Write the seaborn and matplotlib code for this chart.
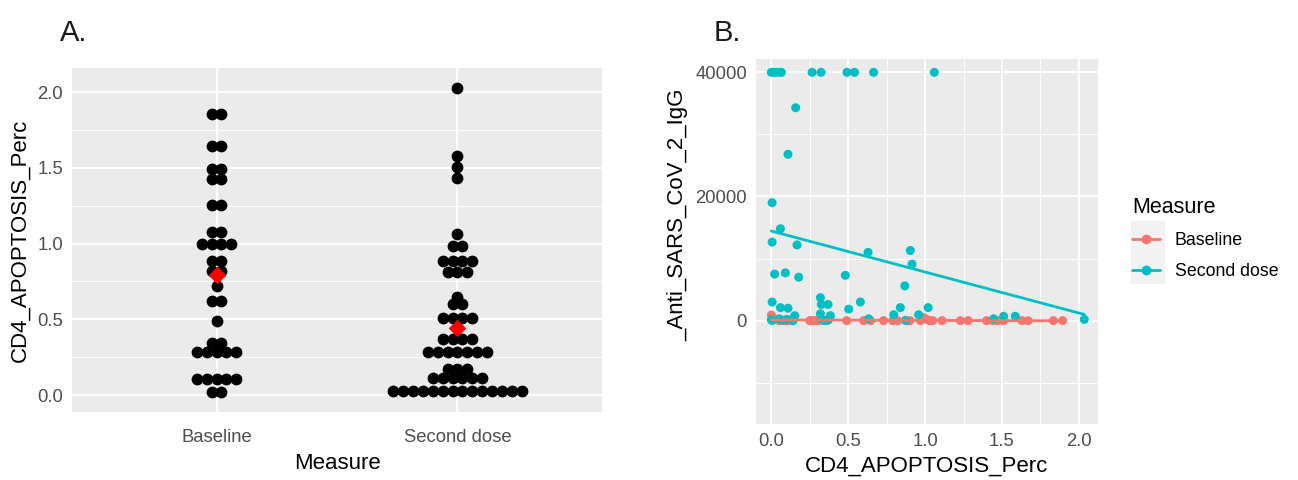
import matplotlib

matplotlib.use("Agg")
import matplotlib.pyplot as plt
import numpy as np
import pandas as pd
import seaborn as sns
from matplotlib.lines import Line2D
from matplotlib.patches import Rectangle
from matplotlib.ticker import FormatStrFormatter, MultipleLocator

# Panel A: CD4 apoptosis (%) per measure, one entry per dot (dotplot bin centres)
measures = ["Baseline", "Second dose"]
baseline_perc = [
    1.855, 1.855, 1.641, 1.641, 1.491, 1.491, 1.425, 1.425, 1.253, 1.253,
    1.079, 1.079, 1.0, 1.0, 1.0, 1.0, 0.887, 0.887, 0.817, 0.817, 0.72,
    0.623, 0.623, 0.489, 0.342, 0.342, 0.284, 0.284, 0.284, 0.284, 0.284,
    0.104, 0.104, 0.104, 0.104, 0.104, 0.02, 0.02,
]
second_dose_perc = [
    2.03, 1.579, 1.506, 1.436, 1.062, 0.987, 0.987,
    0.885, 0.885, 0.885, 0.885, 0.815, 0.815, 0.815, 0.65, 0.599, 0.599,
    0.511, 0.511, 0.511, 0.511, 0.368, 0.368, 0.368, 0.368,
    0.284, 0.284, 0.284, 0.284, 0.284, 0.284, 0.284,
    0.172, 0.172, 0.172, 0.11, 0.11, 0.11, 0.11, 0.11, 0.11,
    0.028, 0.028, 0.028, 0.028, 0.028, 0.028, 0.028,
    0.028, 0.028, 0.028, 0.028, 0.028, 0.028, 0.028,
]

# Panel B: apoptosis vs anti-SARS-CoV-2 IgG
igg_baseline_perc = [
    0.0, 0.01, 0.05, 0.08, 0.10, 0.12, 0.14, 0.25, 0.26, 0.28, 0.30, 0.31,
    0.34, 0.36, 0.49, 0.60, 0.645, 0.73, 0.79, 0.82, 0.88, 0.90, 0.97, 0.99,
    1.01, 1.03, 1.05, 1.11, 1.23, 1.28, 1.40, 1.44, 1.47, 1.51, 1.63, 1.67,
    1.835, 1.895,
]
igg_baseline = [
    900, 300, 0, 0, 0, 100, 0, 0, 0, 0, 0, 100,
    0, 0, 0, 0, 0, 0, 0, 0, 0, 0, 0, 500,
    200, 0, 0, 0, 0, 0, 0, 0, 0, 0, 0, 0,
    0, 0,
]
igg_second_perc = [
    0.0, 0.02, 0.04, 0.065, 0.265, 0.323, 0.492, 0.541, 0.665, 1.06,
    0.158, 0.108, 0.005,
    0.059, 0.005, 0.167, 0.629, 0.904, 0.915, 0.021, 0.091, 0.178, 0.481, 0.868,
    0.005, 0.059, 0.108, 0.319, 0.325, 0.369, 0.579, 0.839, 1.02, 0.503,
    0.796, 0.958, 0.319, 0.384, 0.152,
    0.0, 0.005, 0.05, 0.07, 0.1, 0.14, 0.33, 0.35, 0.37, 0.633, 0.872,
    1.446, 1.511, 1.587, 2.036,
]
igg_second = [
    40000, 40000, 40000, 40000, 40000, 40000, 40000, 40000, 40000, 40000,
    34300, 26800, 19000,
    14800, 12650, 12200, 11000, 11300, 9100, 7500, 7700, 7000, 7300, 5600,
    3000, 2100, 2000, 3700, 2600, 2600, 3000, 2100, 2100, 1850,
    950, 950, 1100, 800, 800,
    150, 0, 300, 100, 200, 0, 150, 0, 100, 300, 50,
    300, 700, 700, 200,
]

palette = {"Baseline": "#F8766D", "Second dose": "#00BFC4"}
TICK_GREY = "#4D4D4D"
DOT_STEP = 0.041  # horizontal spacing of stacked dots, in category units

sns.set_theme(
    style="darkgrid",
    rc={"axes.facecolor": "#EBEBEB", "grid.color": "white", "axes.edgecolor": "#EBEBEB"},
)
plt.rcParams["font.family"] = ["Liberation Sans", "DejaVu Sans"]
plt.rcParams["text.color"] = "black"

fig = plt.figure(figsize=(12.98, 4.8), dpi=100)
ax_a = fig.add_axes([72 / 1298, 68 / 480, 530 / 1298, 344 / 480])
ax_b = fig.add_axes([756 / 1298, 56 / 480, 342 / 1298, 365 / 480])


def style_axes(ax):
    for spine in ax.spines.values():
        spine.set_visible(False)
    ax.grid(which="major", color="white", linewidth=1.3)
    ax.grid(which="minor", color="white", linewidth=0.65)
    ax.tick_params(which="major", length=3.5, width=0.9, color="#333333",
                   labelsize=13.3, labelcolor=TICK_GREY, pad=3)
    ax.tick_params(which="minor", length=0)
    ax.set_axisbelow(True)


# ---- Panel A: dotplot with means ----
dots = pd.DataFrame({
    "Measure": ["Baseline"] * len(baseline_perc) + ["Second dose"] * len(second_dose_perc),
    "CD4_APOPTOSIS_Perc": baseline_perc + second_dose_perc,
})
grp = dots.groupby(["Measure", "CD4_APOPTOSIS_Perc"])
dots["slot"] = grp.cumcount() - (grp["Measure"].transform("size") - 1) / 2
dots["pos"] = dots["Measure"].map({m: i for i, m in enumerate(measures)}) + dots["slot"] * DOT_STEP

sns.scatterplot(data=dots, x="pos", y="CD4_APOPTOSIS_Perc", color="black",
                s=72, linewidth=0, ax=ax_a)
means = dots.groupby("Measure")["CD4_APOPTOSIS_Perc"].mean().reindex(measures)
sns.scatterplot(x=np.arange(len(measures)), y=means.values, marker="D", color="red",
                s=80, linewidth=0, ax=ax_a, zorder=4)

style_axes(ax_a)
ax_a.tick_params(axis="x", which="major", pad=8.5)
ax_a.set_xlim(-0.6, 1.6)
ax_a.set_ylim(-0.112, 2.159)
ax_a.set_xticks(range(len(measures)))
ax_a.set_xticklabels(measures)
ax_a.yaxis.set_major_locator(MultipleLocator(0.5))
ax_a.yaxis.set_minor_locator(MultipleLocator(0.25))
ax_a.yaxis.set_major_formatter(FormatStrFormatter("%.1f"))
ax_a.set_xlabel("Measure", fontsize=16, color="black", labelpad=5)
ax_a.set_ylabel("CD4_APOPTOSIS_Perc", fontsize=16, color="black", labelpad=5)

# ---- Panel B: scatter with linear fits ----
igg = pd.DataFrame({
    "Measure": ["Baseline"] * len(igg_baseline_perc) + ["Second dose"] * len(igg_second_perc),
    "CD4_APOPTOSIS_Perc": igg_baseline_perc + igg_second_perc,
    "Anti_SARS_CoV_2_IgG": igg_baseline + igg_second,
})
sns.scatterplot(data=igg, x="CD4_APOPTOSIS_Perc", y="Anti_SARS_CoV_2_IgG", hue="Measure",
                palette=palette, s=42, linewidth=0, legend=False, ax=ax_b)
for m in measures:
    sub = igg[igg["Measure"] == m]
    sns.regplot(data=sub, x="CD4_APOPTOSIS_Perc", y="Anti_SARS_CoV_2_IgG", scatter=False,
                ci=None, color=palette[m], line_kws={"linewidth": 2.0}, ax=ax_b)

style_axes(ax_b)
ax_b.set_xlim(-0.10, 2.125)
ax_b.set_ylim(-16650, 42150)
ax_b.xaxis.set_major_locator(MultipleLocator(0.5))
ax_b.xaxis.set_minor_locator(MultipleLocator(0.25))
ax_b.xaxis.set_major_formatter(FormatStrFormatter("%.1f"))
ax_b.yaxis.set_major_locator(MultipleLocator(20000))
ax_b.yaxis.set_minor_locator(MultipleLocator(10000))
ax_b.set_xlabel("CD4_APOPTOSIS_Perc", fontsize=16, color="black", labelpad=4)
ax_b.set_ylabel("_Anti_SARS_CoV_2_IgG", fontsize=16, color="black", labelpad=5)
ax_b.yaxis.label.set_y(0.573)

# legend with grey key backgrounds
fig.patches.append(Rectangle((1131 / 1298, 1 - 284 / 480), 34 / 1298, 63 / 480,
                             transform=fig.transFigure, facecolor="#F2F2F2",
                             edgecolor="none", zorder=0))
handles = [Line2D([], [], color=palette[m], marker="o", markersize=6, linewidth=2.0)
           for m in measures]
fig.legend(handles, measures, title="Measure", loc="upper left",
           bbox_to_anchor=(1123 / 1298, 1 - 188 / 480), frameon=False,
           fontsize=12.8, title_fontsize=15.5, handlelength=1.6,
           handletextpad=0.8, labelspacing=0.8, borderpad=0, alignment="left")

fig.text(60 / 1298, 1 - 41 / 480, "A.", fontsize=21, color="#1A1A1A", va="baseline")
fig.text(714 / 1298, 1 - 41 / 480, "B.", fontsize=21, color="#1A1A1A", va="baseline")

fig.savefig("out.png", dpi=100)
